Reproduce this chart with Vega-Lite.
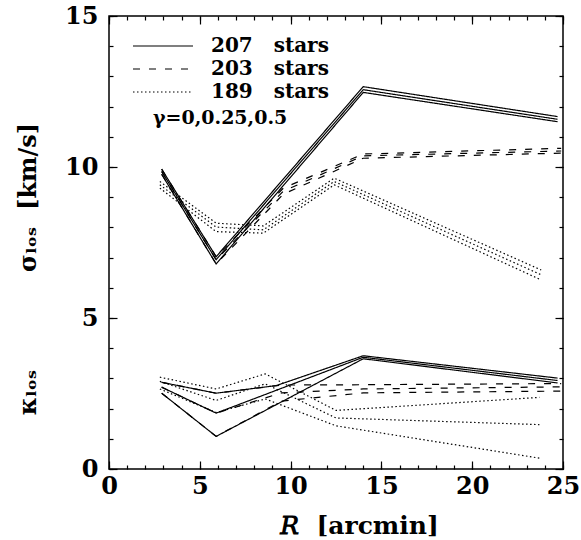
{
  "$schema": "https://vega.github.io/schema/vega-lite/v6.json",
  "autosize": "none",
  "width": 454,
  "height": 453,
  "padding": {"left": 109, "top": 16, "right": 18, "bottom": 71},
  "background": "white",
  "data": {"values": [
    {"s": "207 stars", "g": 0, "q": "sigma", "R": 2.9, "v": 9.93},
    {"s": "207 stars", "g": 0, "q": "sigma", "R": 5.9, "v": 7.03},
    {"s": "207 stars", "g": 0, "q": "sigma", "R": 14.0, "v": 12.66},
    {"s": "207 stars", "g": 0, "q": "sigma", "R": 24.7, "v": 11.67},
    {"s": "207 stars", "g": 0.25, "q": "sigma", "R": 2.9, "v": 9.85},
    {"s": "207 stars", "g": 0.25, "q": "sigma", "R": 5.9, "v": 6.93},
    {"s": "207 stars", "g": 0.25, "q": "sigma", "R": 14.0, "v": 12.56},
    {"s": "207 stars", "g": 0.25, "q": "sigma", "R": 24.7, "v": 11.58},
    {"s": "207 stars", "g": 0.5, "q": "sigma", "R": 2.9, "v": 9.76},
    {"s": "207 stars", "g": 0.5, "q": "sigma", "R": 5.9, "v": 6.79},
    {"s": "207 stars", "g": 0.5, "q": "sigma", "R": 14.0, "v": 12.47},
    {"s": "207 stars", "g": 0.5, "q": "sigma", "R": 24.7, "v": 11.5},
    {"s": "207 stars", "g": 0, "q": "kappa", "R": 2.9, "v": 2.87},
    {"s": "207 stars", "g": 0, "q": "kappa", "R": 5.9, "v": 2.51},
    {"s": "207 stars", "g": 0, "q": "kappa", "R": 9.2, "v": 2.76},
    {"s": "207 stars", "g": 0, "q": "kappa", "R": 14.0, "v": 3.75},
    {"s": "207 stars", "g": 0, "q": "kappa", "R": 24.7, "v": 3.01},
    {"s": "207 stars", "g": 0.25, "q": "kappa", "R": 2.9, "v": 2.71},
    {"s": "207 stars", "g": 0.25, "q": "kappa", "R": 5.9, "v": 1.85},
    {"s": "207 stars", "g": 0.25, "q": "kappa", "R": 14.0, "v": 3.7},
    {"s": "207 stars", "g": 0.25, "q": "kappa", "R": 24.7, "v": 2.93},
    {"s": "207 stars", "g": 0.5, "q": "kappa", "R": 2.9, "v": 2.51},
    {"s": "207 stars", "g": 0.5, "q": "kappa", "R": 5.9, "v": 1.08},
    {"s": "207 stars", "g": 0.5, "q": "kappa", "R": 14.0, "v": 3.65},
    {"s": "207 stars", "g": 0.5, "q": "kappa", "R": 24.7, "v": 2.85},
    {"s": "203 stars", "g": 0, "q": "sigma", "R": 2.9, "v": 9.93},
    {"s": "203 stars", "g": 0, "q": "sigma", "R": 5.9, "v": 7.03},
    {"s": "203 stars", "g": 0, "q": "sigma", "R": 9.6, "v": 9.3},
    {"s": "203 stars", "g": 0, "q": "sigma", "R": 14.0, "v": 10.43},
    {"s": "203 stars", "g": 0, "q": "sigma", "R": 24.9, "v": 10.62},
    {"s": "203 stars", "g": 0.25, "q": "sigma", "R": 2.9, "v": 9.85},
    {"s": "203 stars", "g": 0.25, "q": "sigma", "R": 5.9, "v": 6.93},
    {"s": "203 stars", "g": 0.25, "q": "sigma", "R": 9.6, "v": 9.2},
    {"s": "203 stars", "g": 0.25, "q": "sigma", "R": 14.0, "v": 10.37},
    {"s": "203 stars", "g": 0.25, "q": "sigma", "R": 24.9, "v": 10.53},
    {"s": "203 stars", "g": 0.5, "q": "sigma", "R": 2.9, "v": 9.76},
    {"s": "203 stars", "g": 0.5, "q": "sigma", "R": 5.9, "v": 6.79},
    {"s": "203 stars", "g": 0.5, "q": "sigma", "R": 9.6, "v": 9.1},
    {"s": "203 stars", "g": 0.5, "q": "sigma", "R": 14.0, "v": 10.29},
    {"s": "203 stars", "g": 0.5, "q": "sigma", "R": 24.9, "v": 10.46},
    {"s": "203 stars", "g": 0, "q": "kappa", "R": 2.9, "v": 2.87},
    {"s": "203 stars", "g": 0, "q": "kappa", "R": 5.9, "v": 2.51},
    {"s": "203 stars", "g": 0, "q": "kappa", "R": 9.5, "v": 2.78},
    {"s": "203 stars", "g": 0, "q": "kappa", "R": 14.0, "v": 2.79},
    {"s": "203 stars", "g": 0, "q": "kappa", "R": 24.9, "v": 2.83},
    {"s": "203 stars", "g": 0.25, "q": "kappa", "R": 2.9, "v": 2.71},
    {"s": "203 stars", "g": 0.25, "q": "kappa", "R": 5.9, "v": 1.85},
    {"s": "203 stars", "g": 0.25, "q": "kappa", "R": 9.5, "v": 2.52},
    {"s": "203 stars", "g": 0.25, "q": "kappa", "R": 14.0, "v": 2.65},
    {"s": "203 stars", "g": 0.25, "q": "kappa", "R": 24.9, "v": 2.72},
    {"s": "203 stars", "g": 0.5, "q": "kappa", "R": 2.9, "v": 2.51},
    {"s": "203 stars", "g": 0.5, "q": "kappa", "R": 5.9, "v": 1.08},
    {"s": "203 stars", "g": 0.5, "q": "kappa", "R": 9.5, "v": 2.25},
    {"s": "203 stars", "g": 0.5, "q": "kappa", "R": 14.0, "v": 2.52},
    {"s": "203 stars", "g": 0.5, "q": "kappa", "R": 24.9, "v": 2.58},
    {"s": "189 stars", "g": 0, "q": "sigma", "R": 2.8, "v": 9.52},
    {"s": "189 stars", "g": 0, "q": "sigma", "R": 5.9, "v": 8.14},
    {"s": "189 stars", "g": 0, "q": "sigma", "R": 8.5, "v": 8.05},
    {"s": "189 stars", "g": 0, "q": "sigma", "R": 12.4, "v": 9.63},
    {"s": "189 stars", "g": 0, "q": "sigma", "R": 23.8, "v": 6.59},
    {"s": "189 stars", "g": 0.25, "q": "sigma", "R": 2.8, "v": 9.41},
    {"s": "189 stars", "g": 0.25, "q": "sigma", "R": 5.9, "v": 8.01},
    {"s": "189 stars", "g": 0.25, "q": "sigma", "R": 8.5, "v": 7.92},
    {"s": "189 stars", "g": 0.25, "q": "sigma", "R": 12.4, "v": 9.52},
    {"s": "189 stars", "g": 0.25, "q": "sigma", "R": 23.8, "v": 6.43},
    {"s": "189 stars", "g": 0.5, "q": "sigma", "R": 2.8, "v": 9.3},
    {"s": "189 stars", "g": 0.5, "q": "sigma", "R": 5.9, "v": 7.86},
    {"s": "189 stars", "g": 0.5, "q": "sigma", "R": 8.5, "v": 7.81},
    {"s": "189 stars", "g": 0.5, "q": "sigma", "R": 12.4, "v": 9.41},
    {"s": "189 stars", "g": 0.5, "q": "sigma", "R": 23.8, "v": 6.26},
    {"s": "189 stars", "g": 0, "q": "kappa", "R": 2.8, "v": 3.04},
    {"s": "189 stars", "g": 0, "q": "kappa", "R": 5.9, "v": 2.65},
    {"s": "189 stars", "g": 0, "q": "kappa", "R": 8.6, "v": 3.15},
    {"s": "189 stars", "g": 0, "q": "kappa", "R": 12.5, "v": 1.94},
    {"s": "189 stars", "g": 0, "q": "kappa", "R": 23.7, "v": 2.37},
    {"s": "189 stars", "g": 0.25, "q": "kappa", "R": 2.8, "v": 2.9},
    {"s": "189 stars", "g": 0.25, "q": "kappa", "R": 5.9, "v": 2.27},
    {"s": "189 stars", "g": 0.25, "q": "kappa", "R": 8.6, "v": 2.82},
    {"s": "189 stars", "g": 0.25, "q": "kappa", "R": 12.5, "v": 1.69},
    {"s": "189 stars", "g": 0.25, "q": "kappa", "R": 23.7, "v": 1.47},
    {"s": "189 stars", "g": 0.5, "q": "kappa", "R": 2.8, "v": 2.65},
    {"s": "189 stars", "g": 0.5, "q": "kappa", "R": 5.9, "v": 1.87},
    {"s": "189 stars", "g": 0.5, "q": "kappa", "R": 8.6, "v": 2.32},
    {"s": "189 stars", "g": 0.5, "q": "kappa", "R": 12.5, "v": 1.43},
    {"s": "189 stars", "g": 0.5, "q": "kappa", "R": 23.7, "v": 0.36}
  ]},
  "layer": [
    {
      "mark": {"type": "line", "strokeWidth": 1.2, "color": "black"},
      "encoding": {
        "x": {"field": "R", "type": "quantitative",
          "scale": {"domain": [0, 25], "nice": false, "zero": false},
          "axis": {"values": [0, 5, 10, 15, 20, 25], "ticks": false, "labelPadding": 5, "labelFontSize": 24, "labelFlush": false,
            "title": "𝑅\u00a0\u00a0[arcmin]", "titleFontSize": 25, "titleX": 250, "titleY": 64, "titleBaseline": "alphabetic", "titleAlign": "center"}},
        "y": {"field": "v", "type": "quantitative",
          "scale": {"domain": [0, 15], "nice": false, "zero": false},
          "axis": {"values": [0, 5, 10, 15], "ticks": false, "labelPadding": 11, "labelFontSize": 24, "labelFlush": false,
            "title": "σₗₒₛ\u00a0\u00a0[km/s]", "titleFontSize": 24, "titleX": -81, "titleY": 181, "titleAlign": "center", "titleBaseline": "middle", "titleAngle": -90}},
        "strokeDash": {"field": "s", "type": "nominal",
          "scale": {"domain": ["207 stars", "203 stars", "189 stars"], "range": [[1, 0], [7, 9], [1.5, 2.5]]},
          "legend": {"orient": "none", "legendX": 44, "legendY": 20, "title": "γ=0,0.25,0.5", "titleOrient": "bottom", "titleAnchor": "start",
            "labelExpr": "replace(datum.label, ' ', '\u00a0\u00a0\u00a0')"}},
        "detail": [{"field": "g"}, {"field": "q"}]
      }
    },
    {
      "mark": {"type": "point", "opacity": 0},
      "encoding": {
        "x": {"field": "R", "type": "quantitative", "axis": {"orient": "bottom", "values": [0,1,2,3,4,5,6,7,8,9,10,11,12,13,14,15,16,17,18,19,20,21,22,23,24,25], "tickSize": -4, "labels": false, "title": null}},
        "y": {"field": "v", "type": "quantitative", "axis": {"orient": "left", "values": [0,1,2,3,4,5,6,7,8,9,10,11,12,13,14,15], "tickSize": -4, "labels": false, "title": null}}
      }
    },
    {
      "mark": {"type": "point", "opacity": 0},
      "encoding": {
        "x": {"field": "R", "type": "quantitative", "axis": {"orient": "bottom", "values": [0, 5, 10, 15, 20, 25], "tickSize": -8, "labels": false, "title": null}},
        "y": {"field": "v", "type": "quantitative", "axis": {"orient": "left", "values": [0, 5, 10, 15], "tickSize": -8, "labels": false, "title": null}}
      }
    },
    {
      "mark": {"type": "point", "opacity": 0},
      "encoding": {
        "x": {"field": "R", "type": "quantitative", "axis": {"orient": "top", "values": [0,1,2,3,4,5,6,7,8,9,10,11,12,13,14,15,16,17,18,19,20,21,22,23,24,25], "tickSize": -4, "labels": false, "title": null}},
        "y": {"field": "v", "type": "quantitative", "axis": {"orient": "right", "values": [0,1,2,3,4,5,6,7,8,9,10,11,12,13,14,15], "tickSize": -4, "labels": false, "title": null}}
      }
    },
    {
      "mark": {"type": "point", "opacity": 0},
      "encoding": {
        "x": {"field": "R", "type": "quantitative", "axis": {"orient": "top", "values": [0, 5, 10, 15, 20, 25], "tickSize": -8, "labels": false, "title": null}},
        "y": {"field": "v", "type": "quantitative", "axis": {"orient": "right", "values": [0, 5, 10, 15], "tickSize": -8, "labels": false, "title": null}}
      }
    },
    {
      "mark": {"type": "point", "opacity": 0},
      "encoding": {
        "x": {"field": "R", "type": "quantitative", "axis": null},
        "y": {"field": "v", "type": "quantitative", "axis": {"orient": "left", "ticks": false, "labels": false, "title": "κₗₒₛ", "titleFontSize": 24, "titleX": -81, "titleY": 376, "titleAlign": "center", "titleBaseline": "middle", "titleAngle": -90}}
      }
    }
  ],
  "resolve": {"axis": {"x": "independent", "y": "independent"}},
  "config": {
    "view": {"stroke": "black", "strokeWidth": 1.5},
    "axis": {"domain": false, "grid": false, "tickColor": "black", "tickWidth": 1.2,
      "labelFont": "DejaVu Serif", "labelFontWeight": "bold", "labelColor": "black",
      "titleFont": "DejaVu Serif", "titleFontWeight": "bold", "titleColor": "black"},
    "legend": {"symbolType": "M-6,0H6", "symbolSize": 100, "symbolStrokeColor": "black", "symbolStrokeWidth": 1.2, "symbolFillColor": "transparent",
      "labelFont": "DejaVu Serif", "labelFontWeight": "bold", "labelFontSize": 20, "labelColor": "black", "labelOffset": 38, "labelLimit": 300,
      "titleFont": "DejaVu Serif", "titleFontWeight": "bold", "titleFontSize": 19, "titleColor": "black", "titlePadding": 7, "titleLimit": 300,
      "rowPadding": 3}
  }
}
